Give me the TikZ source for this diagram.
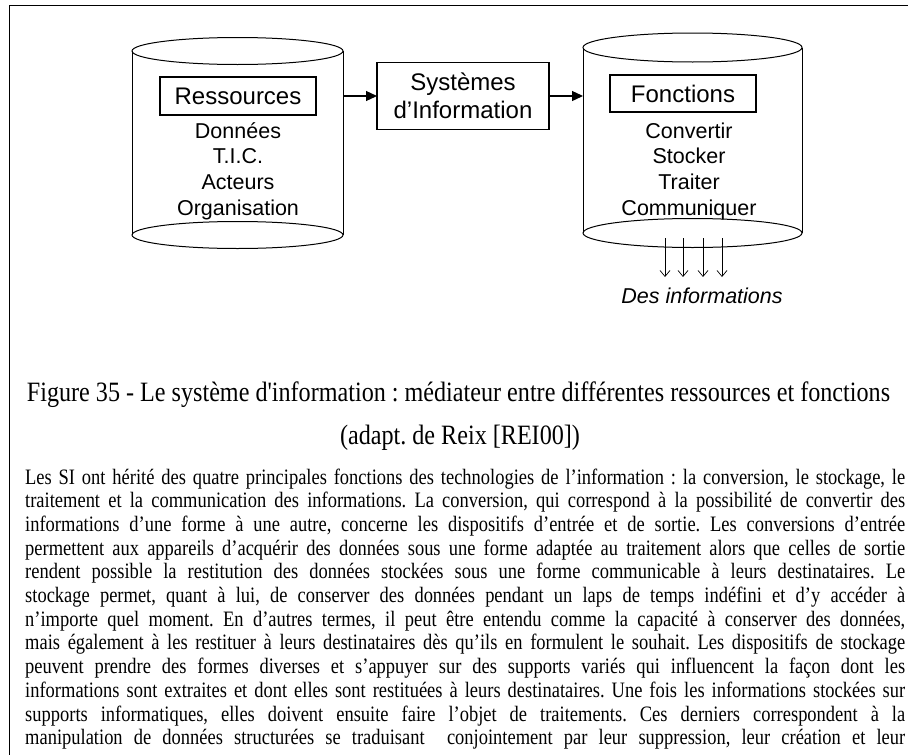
\documentclass[tikz,border=0pt]{standalone}
\usepackage{fontspec}
\setmainfont{Liberation Serif}
\newfontfamily\arialf{Liberation Sans}
\newfontfamily\capf[FakeStretch=0.862,Ligatures=ResetAll]{Liberation Serif}
\newfontfamily\bodyf[FakeStretch=0.84]{Liberation Serif}
\usetikzlibrary{arrows.meta}
\frenchspacing
\begin{document}
\begin{tikzpicture}[x=1pt,y=-1pt,
  cylbody/.style={minimum width=#1, inner sep=0pt, outer sep=0pt},
  cyl/.style={line width=1pt},
  titlebox/.style={draw, line width=1.2pt, inner sep=0pt, outer sep=0pt, font=\arialf\fontsize{24}{28}\selectfont},
  item/.style={anchor=base, inner sep=0pt, font=\arialf\fontsize{21.5}{25}\selectfont},
  conn/.style={line width=1.3pt, -{Triangle[length=11pt,width=10pt]}},
  outarr/.style={line width=0.7pt, -{Straight Barb[length=6pt,width=10pt,line width=0.7pt]}},
  capline/.style={anchor=base, inner sep=0pt, font=\capf\fontsize{28}{32}\selectfont},
  bodyline/.style={anchor=base west, inner sep=0pt, font=\bodyf\fontsize{22}{24}\selectfont}
]
\useasboundingbox (0,0) rectangle (908,755);
% frame
\draw[line width=1.5pt] (9.5,755) -- (9.5,5.5) -- (908,5.5);

% left cylinder
\node[cylbody=211pt, minimum height=184pt] (cylL) at (237.5,143) {};
\draw[cyl] (cylL.north) ellipse [x radius=105.5pt, y radius=13.5pt];
\draw[cyl] (cylL.north west) -- (cylL.south west);
\draw[cyl] (cylL.north east) -- (cylL.south east);
\draw[cyl] (cylL.south) ellipse [x radius=105.5pt, y radius=13.5pt];
\node[titlebox, minimum width=156pt, minimum height=38pt] (res) at (238,96) {Ressources};
\node[item] (r1) at (238,138) {Données};
\node[item] (r2) at (238,163.7) {T.I.C.};
\node[item] (r3) at (238,189.4) {Acteurs};
\node[item] (r4) at (238,215) {Organisation};

% right cylinder
\node[cylbody=219pt, minimum height=185.5pt] (cylR) at (692.5,140.25) {};
\draw[cyl] (cylR.north) ellipse [x radius=109.5pt, y radius=14.5pt];
\draw[cyl] (cylR.north west) -- (cylR.south west);
\draw[cyl] (cylR.north east) -- (cylR.south east);
\draw[cyl] (cylR.south) ellipse [x radius=109.5pt, y radius=14.5pt];
\node[titlebox, minimum width=146pt, minimum height=37pt] (fon) at (683,93.5) {Fonctions};
\node[item] (f1) at (689,138) {Convertir};
\node[item] (f2) at (689,163.7) {Stocker};
\node[item] (f3) at (689,189.4) {Traiter};
\node[item] (f4) at (689,215) {Communiquer};

% SI box
\node[titlebox, minimum width=172pt, minimum height=67pt, align=center] (si) at (463,96) {Systèmes\\d’Information};

\draw[conn] (cylL.east |- si.west) -- (si.west);
\draw[conn] (si.east) -- (cylR.west |- si.east);

% outputs
\node[item, font=\arialf\itshape\fontsize{21.5}{25}\selectfont] (des) at (702,303) {Des informations};
\foreach \i/\xx in {1/665,2/683,3/703,4/722}{
  \coordinate (s\i) at (\xx,238);
  \coordinate (e\i) at (\xx,277);
  \draw[outarr] (s\i) -- (e\i);
}

% caption
\node[capline] (cap1) at (458.5,401) {Figure 35 - Le système d'information : médiateur entre différentes ressources et fonctions};
\node[capline] (cap2) at (460,444) {(adapt. de Reix [REI00])};

% body
\node[bodyline] (b1) at (25,484) {\makebox[880pt][s]{Les SI ont hérité des quatre principales fonctions des technologies de l’information : la conversion, le stockage, le}};
\node[bodyline] (b2) at (25,507.7) {\makebox[880pt][s]{traitement et la communication des informations. La conversion, qui correspond à la possibilité de convertir des}};
\node[bodyline] (b3) at (25,531.4) {\makebox[880pt][s]{informations d’une forme à une autre, concerne les dispositifs d’entrée et de sortie. Les conversions d’entrée}};
\node[bodyline] (b4) at (25,555.1) {\makebox[880pt][s]{permettent aux appareils d’acquérir des données sous une forme adaptée au traitement alors que celles de sortie}};
\node[bodyline] (b5) at (25,578.8) {\makebox[880pt][s]{rendent possible la restitution des données stockées sous une forme communicable à leurs destinataires. Le}};
\node[bodyline] (b6) at (25,602.5) {\makebox[880pt][s]{stockage permet, quant à lui, de conserver des données pendant un laps de temps indéfini et d’y accéder à}};
\node[bodyline] (b7) at (25,626.2) {\makebox[880pt][s]{n’importe quel moment. En d’autres termes, il peut être entendu comme la capacité à conserver des données,}};
\node[bodyline] (b8) at (25,649.9) {\makebox[880pt][s]{mais également à les restituer à leurs destinataires dès qu’ils en formulent le souhait. Les dispositifs de stockage}};
\node[bodyline] (b9) at (25,673.6) {\makebox[880pt][s]{peuvent prendre des formes diverses et s’appuyer sur des supports variés qui influencent la façon dont les}};
\node[bodyline] (b10) at (25,697.3) {\makebox[880pt][s]{informations sont extraites et dont elles sont restituées à leurs destinataires. Une fois les informations stockées sur}};
\node[bodyline] (b11) at (25,721) {\makebox[880pt][s]{supports informatiques, elles doivent ensuite faire l’objet de traitements. Ces derniers correspondent à la}};
\node[bodyline] (b12) at (25,744.7) {\makebox[880pt][s]{manipulation de données structurées se traduisant\ \ conjointement par leur suppression, leur création et leur}};
\end{tikzpicture}
\end{document}
